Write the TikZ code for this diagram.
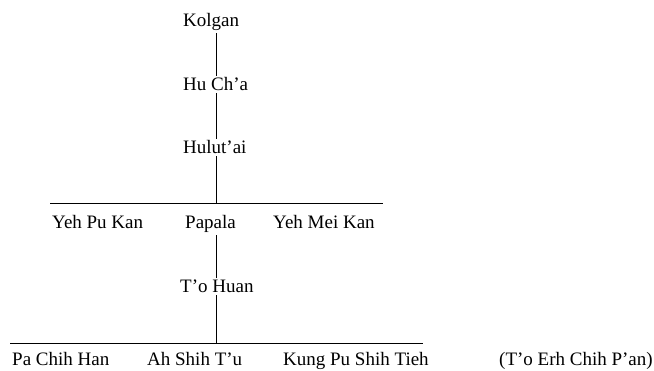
\documentclass[tikz,border=0pt]{standalone}
\usepackage{fontspec}
\setmainfont{Liberation Serif}
\usepackage{tikz}
\tikzstyle{Name}=[anchor=base west,inner xsep=0pt,inner ysep=2pt,
font=\fontsize{19}{21}\selectfont]
\tikzstyle{Edge}=[draw=black,line width=.8pt]
\begin{document}
\begin{tikzpicture}[x=1pt,y=-1pt]
        \useasboundingbox(0,0)rectangle(654,371);
        \coordinate(stem)at(216,0);
        \node[Name](kolgan)at(183,27){Kolgan};
        \node[Name](hucha)at(183,91){Hu Ch'a};
        \node[Name](hulutai)at(183,154){Hulut'ai};
        \coordinate(h1l)at(50,203);
        \coordinate(h1r)at(383,203);
        \node[Name](yehpukan)at(52,229){Yeh Pu Kan};
        \node[Name](papala)at(185,229){Papala};
        \node[Name](yehmeikan)at(273,229){Yeh Mei Kan};
        \node[Name](tohuan)at(180,293){T'o Huan};
        \coordinate(h2l)at(10,343);
        \coordinate(h2r)at(423,343);
        \node[Name](pachihhan)at(12,366){Pa Chih Han};
        \node[Name](ahshihtu)at(147,366){Ah Shih T'u};
        \node[Name](kungpu)at(283,366){Kung Pu Shih Tieh};
        \node[Name](toerh)at(499,366){(T'o Erh Chih P'an)};
        \draw[Edge](kolgan.south-|stem)--(hucha.north-|stem);
        \draw[Edge](hucha.south-|stem)--(hulutai.north-|stem);
        \draw[Edge](hulutai.south-|stem)--(h1l-|stem);
        \draw[Edge](h1l)--(h1r);
        \draw[Edge](papala.south-|stem)--(tohuan.north-|stem);
        \draw[Edge](tohuan.south-|stem)--(h2l-|stem);
        \draw[Edge](h2l)--(h2r);
    \end{tikzpicture}
\end{document}
